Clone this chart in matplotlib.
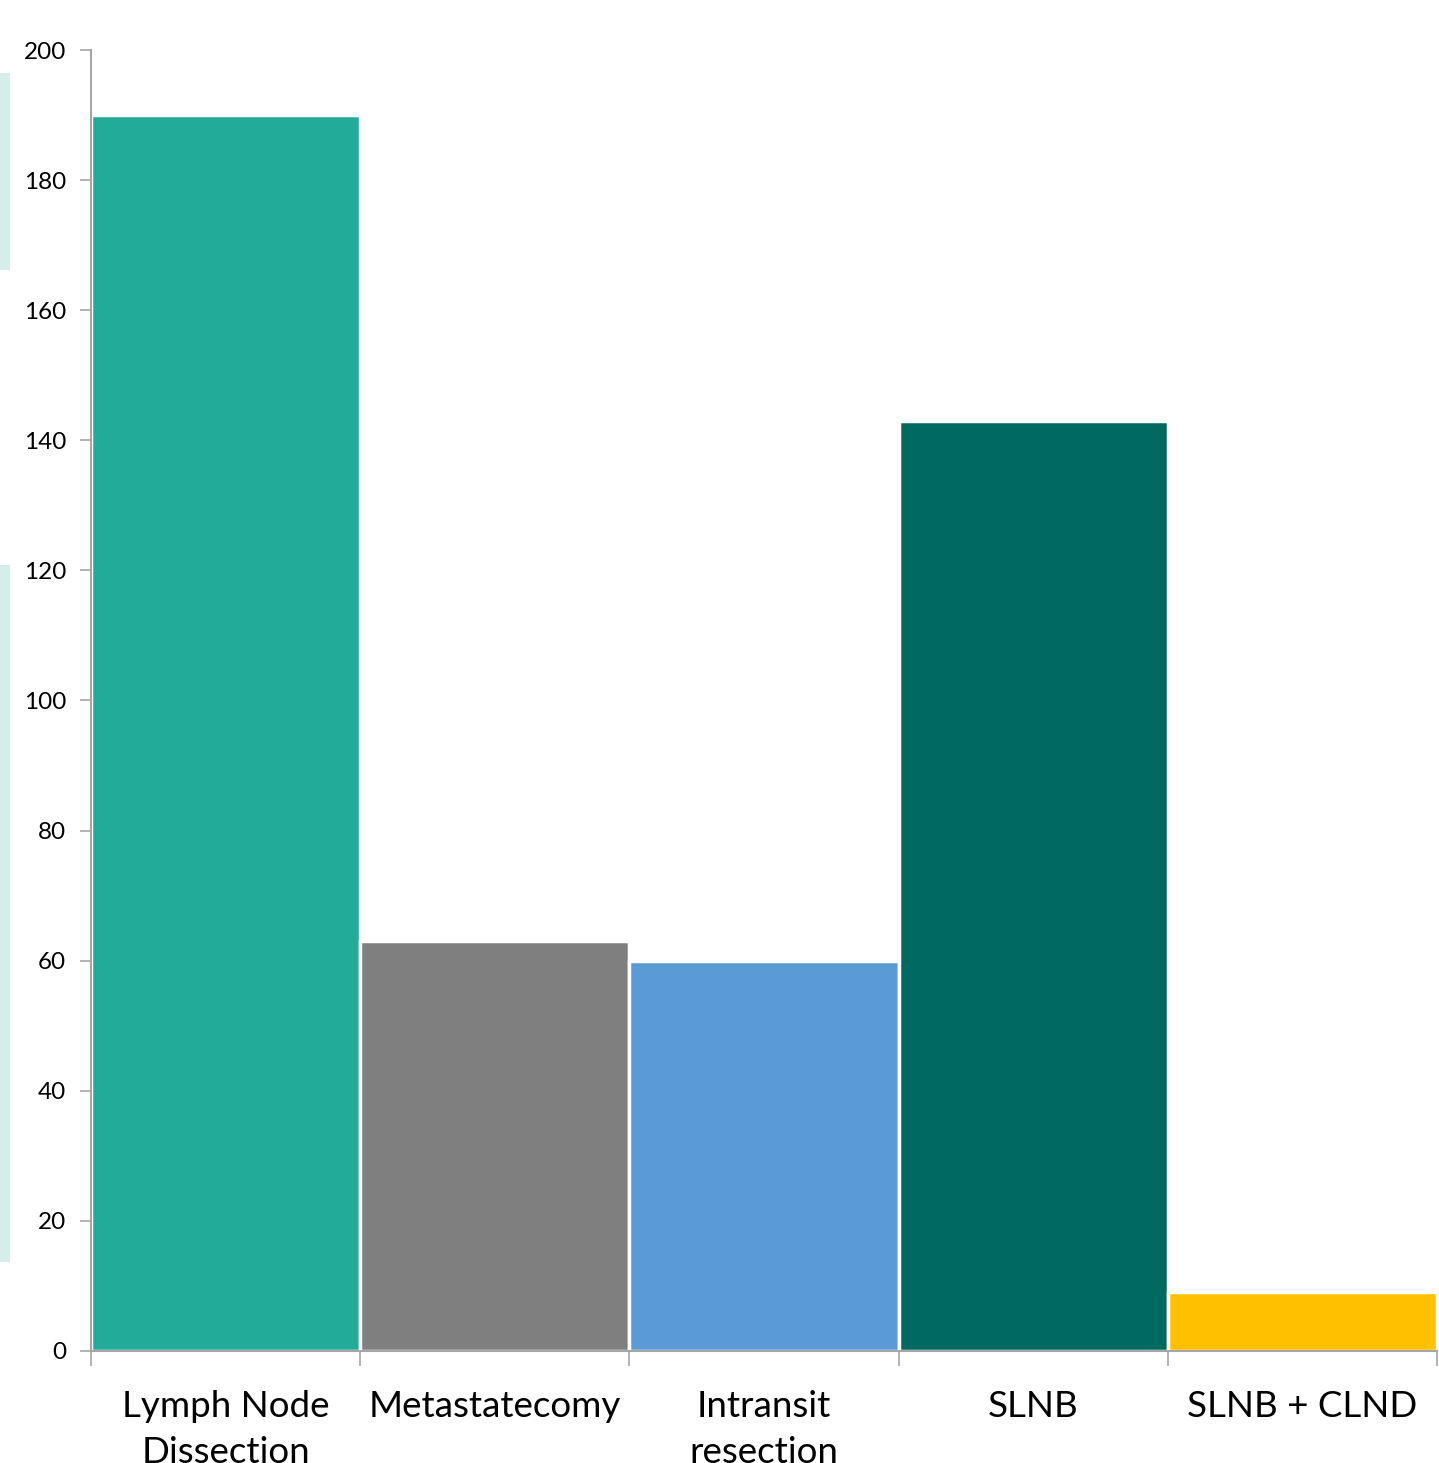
import matplotlib.pyplot as plt
import numpy as np
from matplotlib.patches import Rectangle

plt.rcParams['font.family'] = ['Lato', 'DejaVu Sans']

procedures = ['Lymph Node\nDissection', 'Metastatecomy', 'Intransit\nresection',
              'SLNB', 'SLNB + CLND']
counts = [190, 63, 60, 143, 9]
colors = ['#21ab98', '#7f7f7f', '#5b9bd5', '#006a61', '#ffc000']

fig = plt.figure(figsize=(14.39, 14.63), dpi=100)
ax = fig.add_axes([0.0632, 0.0766, 0.9354, 0.8892])

x = np.arange(len(counts))
ax.bar(x, counts, width=1.0, color=colors, edgecolor='white', linewidth=2.5)

ax.set_xlim(-0.5, len(counts) - 0.5)
ax.set_ylim(0, 200)
ax.set_yticks(np.arange(0, 201, 20))
ax.tick_params(axis='y', length=8, width=1.2, color='#a6a6a6', pad=10,
               labelsize=17.5, labelcolor='black')

ax.set_xticks(x)
ax.set_xticklabels(procedures, fontsize=26.5, linespacing=1.5)
ax.set_xticks(np.arange(-0.5, len(counts)), minor=True)
ax.tick_params(axis='x', which='major', length=0, pad=28)
ax.tick_params(axis='x', which='minor', length=11, width=1.2, color='#a6a6a6')

for side in ['top', 'right']:
    ax.spines[side].set_visible(False)
for side in ['left', 'bottom']:
    ax.spines[side].set_color('#a6a6a6')
    ax.spines[side].set_linewidth(1.5)

# pale strips along the left edge
for y0, y1 in [(73, 270), (565, 1262)]:
    fig.add_artist(Rectangle((0, 1 - y1 / 1463), 10 / 1439, (y1 - y0) / 1463,
                             transform=fig.transFigure, color='#d5eeea', lw=0))

fig.savefig('out.png', dpi=100)
